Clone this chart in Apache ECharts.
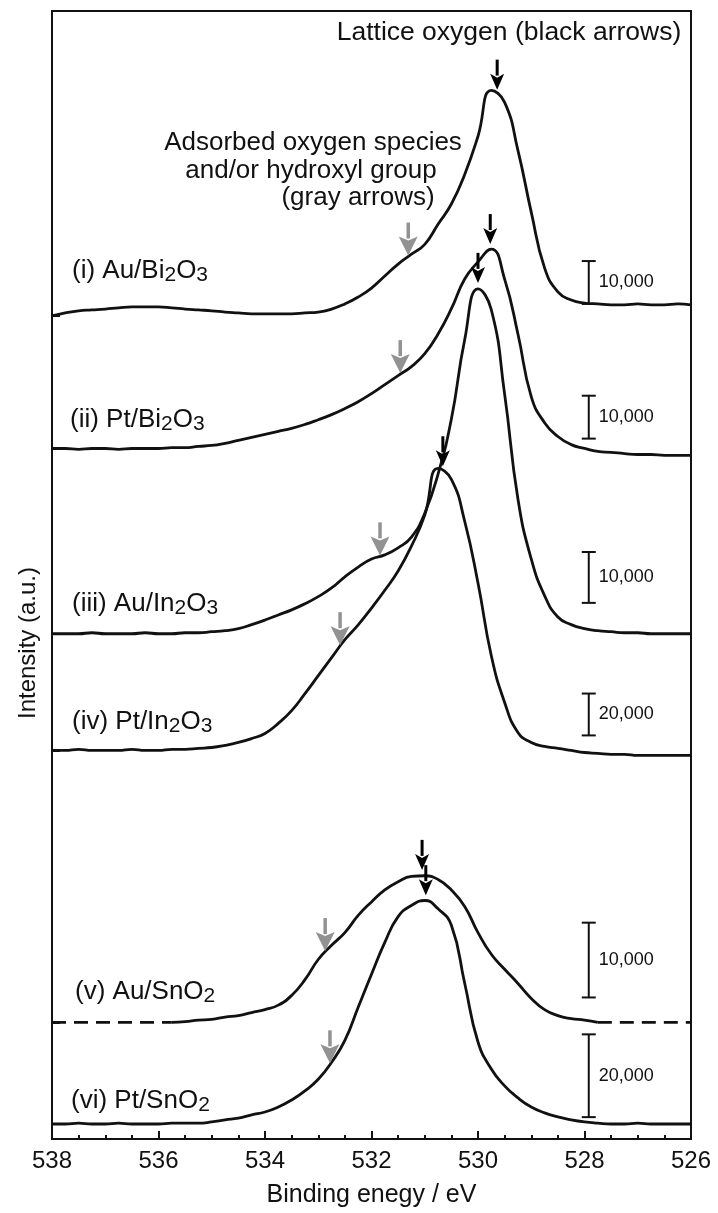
<!DOCTYPE html>
<html>
<head>
<meta charset="utf-8">
<script src="https://cdn.jsdelivr.net/npm/echarts@6/dist/echarts.min.js"></script>
<style>
  html, body { margin: 0; padding: 0; background: #fff; }
  #chart { width: 718px; height: 1213px; }
</style>
</head>
<body>
<div id="chart"></div>
<script>
// O 1s XPS spectra, binding energy grid (eV), high to low
const energy = [538, 537.75, 537.5, 537.25, 537, 536.75, 536.5, 536.25, 536, 535.75, 535.5, 535.25, 535,
  534.75, 534.5, 534.25, 534, 533.75, 533.5, 533.25, 533, 532.75, 532.5, 532.25, 532, 531.75, 531.5,
  531.25, 531, 530.75, 530.5, 530.25, 530, 529.75, 529.5, 529.25, 529, 528.75, 528.5, 528.25, 528,
  527.75, 527.5, 527.25, 527, 526.75, 526.5, 526.25, 526];

// Intensities (counts above each trace's own baseline)
const auBi2O3 = [0, 700, 1200, 1400, 1600, 1900, 2100, 2100, 2100, 1900, 1600, 1400, 1200, 900, 700,
  500, 500, 500, 500, 700, 900, 1600, 2800, 4400, 6500, 9300, 12100, 14400, 16700, 21400, 26100, 33000,
  41900, 52600, 49800, 38600, 24200, 11200, 5600, 3700, 3000, 2800, 2600, 2600, 2800, 2600, 2600, 2800, 2600];
const ptBi2O3 = [0, 0, -200, 0, 0, -200, 0, 0, 0, 200, 200, 500, 700, 1200, 1900, 2600, 3300, 4000, 4700,
  5600, 6700, 7900, 9300, 10900, 12800, 14900, 17000, 19100, 22100, 26700, 32600, 39500, 43500, 46500,
  39500, 26700, 12100, 6000, 2800, 900, 0, -700, -900, -1200, -1400, -1400, -1600, -1600, -1600];
const auIn2O3 = [0, 0, 0, 200, 0, 0, 0, 200, 0, 0, 200, 200, 400, 600, 1000, 1800, 2700, 3700, 4700, 5900,
  7300, 9000, 11200, 13100, 14700, 15500, 16900, 19000, 23700, 31400, 42200, 57800, 67800, 63700, 47100,
  26500, 14700, 7500, 3300, 1800, 1000, 600, 400, 200, 200, 0, 0, 0, 0];
const ptIn2O3 = [0, 0, 500, 0, 0, 0, 500, 0, 0, 500, 500, 1000, 1400, 2400, 3800, 5700, 8100, 12900, 19000,
  27100, 35700, 44300, 52900, 60000, 68000, 76500, 85700, 97600, 112400, 134800, 129500, 109500, 80000,
  45200, 22900, 8600, 3800, 1900, 1000, 0, -1000, -1400, -1900, -1900, -2400, -2400, -2400, -2400, -2400];
const auSnO2 = [null, null, null, null, null, null, null, null, null, 0, 100, 300, 400, 700, 900, 1300, 1700,
  2300, 3600, 5700, 8400, 10300, 12000, 14300, 16100, 17700, 18800, 19500, 19600, 19100, 17700, 15500,
  12000, 9100, 7100, 5200, 3200, 1700, 900, 500, 300, 0, null, null, null, null, null, null, null];
const ptSnO2 = [0, 0, 200, 0, 0, 200, 0, 0, 0, 200, 200, 200, 500, 1000, 1400, 2200, 2900, 4100, 5800, 8000,
  10800, 14900, 20200, 28200, 36200, 43900, 50100, 52800, 54000, 52000, 48000, 34000, 19800, 13300, 9200,
  6300, 4100, 2700, 1700, 1000, 500, 200, 0, 0, 200, 0, 0, 0, 0];

const sampleLabels = [
  '(i) Au/Bi{s|2}O{s|3}', '(ii) Pt/Bi{s|2}O{s|3}', '(iii) Au/In{s|2}O{s|3}',
  '(iv) Pt/In{s|2}O{s|3}', '(v) Au/SnO{s|2}', '(vi) Pt/SnO{s|2}'
];
const scaleBarCounts = [10000, 10000, 10000, 20000, 10000, 20000];
const latticePeakE = [529.64, 529.77, 530.0, 530.66, 531.05, 530.98];
const adsorbedE = [531.31, 531.46, 531.84, 532.59, 532.87, 532.78];
const xTicks = [538, 536, 534, 532, 530, 528, 526];

// Stacking: baseline offset (axis units) and display gain of each trace
const traces = [auBi2O3, ptBi2O3, auIn2O3, ptIn2O3, auSnO2, ptSnO2];
const layout = {
  offsets: [191900, 161000, 117800, 90600, 27200, 3500],
  gains: [1, 1, 1.186, 0.488, 1.744, 0.965],
  barLift: [2800, 2300, 7200, 3500, 5800, 1600],
  barE: 527.92,
  labelPos: [[72, 271], [70, 420], [72, 604], [72, 722], [75, 992], [71, 1101]],
  dashedSpans: [[538, 535.75], [527.75, 526]]
};
const FONT = "'Liberation Sans', Arial, Helvetica, sans-serif";
const INK = '#111';

function shown(k, c) { return layout.offsets[k] + c * layout.gains[k]; }
function valueAt(k, e) {
  const v = traces[k];
  for (let i = 0; i < energy.length - 1; i++) {
    if (e <= energy[i] && e >= energy[i + 1] && v[i] != null && v[i + 1] != null) {
      const t = (energy[i] - e) / (energy[i] - energy[i + 1]);
      return shown(k, v[i] + (v[i + 1] - v[i]) * t);
    }
  }
  return layout.offsets[k];
}

const series = traces.map((vals, k) => ({
  type: 'line',
  data: energy.map((e, i) => vals[i] == null ? null : [e, shown(k, vals[i])]).filter(d => d),
  showSymbol: false,
  smooth: 0.5,
  lineStyle: { color: INK, width: 2.8, join: 'round' },
  silent: true,
  z: 3
}));

// dashed baseline continuation of trace (v)
layout.dashedSpans.forEach(span => {
  series.push({
    type: 'line',
    data: span.map(e => [e, layout.offsets[4]]),
    showSymbol: false,
    lineStyle: { color: INK, width: 2.8, type: [14, 8] },
    silent: true,
    z: 3
  });
});

// arrows marking lattice oxygen (black) and adsorbed species (gray)
const arrowStyles = [
  { color: '#000', gap: 6, length: 30, head: 16, hw: 14, shaft: 3 },
  { color: '#929292', gap: 1, length: 33, head: 19, hw: 19, shaft: 3.5 }
];
const arrowData = [];
latticePeakE.forEach((e, k) => arrowData.push([e, valueAt(k, e), 0]));
adsorbedE.forEach((e, k) => arrowData.push([e, valueAt(k, e), 1]));
series.push({
  type: 'custom',
  data: arrowData,
  silent: true,
  z: 6,
  renderItem(params, api) {
    const p = api.coord([api.value(0), api.value(1)]);
    const st = arrowStyles[api.value(2)];
    const tip = p[1] - st.gap;
    const headTop = tip - st.head;
    return {
      type: 'group',
      children: [
        { type: 'line', shape: { x1: p[0], y1: tip - st.length, x2: p[0], y2: headTop + 2 },
          style: { stroke: st.color, lineWidth: st.shaft } },
        { type: 'polygon', shape: { points: [[p[0] - st.hw / 2, headTop], [p[0], headTop + 4], [p[0] + st.hw / 2, headTop], [p[0], tip]] },
          style: { fill: st.color } }
      ]
    };
  }
});

// intensity scale bars
series.push({
  type: 'custom',
  data: traces.map((_, k) => {
    const lo = layout.offsets[k] + layout.barLift[k];
    return [layout.barE, lo, lo + scaleBarCounts[k] * layout.gains[k], scaleBarCounts[k]];
  }),
  silent: true,
  z: 6,
  renderItem(params, api) {
    const a = api.coord([api.value(0), api.value(1)]);
    const b = api.coord([api.value(0), api.value(2)]);
    const x = a[0];
    const txt = Number(api.value(3)).toLocaleString('en-US');
    return {
      type: 'group',
      children: [
        { type: 'line', shape: { x1: x, y1: a[1], x2: x, y2: b[1] }, style: { stroke: INK, lineWidth: 2 } },
        { type: 'line', shape: { x1: x - 7, y1: a[1], x2: x + 7, y2: a[1] }, style: { stroke: INK, lineWidth: 2 } },
        { type: 'line', shape: { x1: x - 7, y1: b[1], x2: x + 7, y2: b[1] }, style: { stroke: INK, lineWidth: 2 } },
        { type: 'text', x: x + 10, y: (a[1] + b[1]) / 2,
          style: { text: txt, fontSize: 18, fontFamily: FONT, fill: INK, verticalAlign: 'middle', align: 'left' } }
      ]
    };
  }
});

const graphics = [
  { type: 'text', x: 509, y: 33, style: { text: 'Lattice oxygen (black arrows)', fontSize: 26.5, fontFamily: FONT, fill: INK, align: 'center', verticalAlign: 'middle' } },
  { type: 'text', x: 313, y: 143, style: { text: 'Adsorbed oxygen species', fontSize: 26, fontFamily: FONT, fill: INK, align: 'center', verticalAlign: 'middle' } },
  { type: 'text', x: 311, y: 171, style: { text: 'and/or hydroxyl group', fontSize: 26, fontFamily: FONT, fill: INK, align: 'center', verticalAlign: 'middle' } },
  { type: 'text', x: 358, y: 198, style: { text: '(gray arrows)', fontSize: 26, fontFamily: FONT, fill: INK, align: 'center', verticalAlign: 'middle' } },
  { type: 'text', x: 28, y: 643, rotation: Math.PI / 2,
    style: { text: 'Intensity (a.u.)', fontSize: 24, fontFamily: FONT, fill: INK, align: 'center', verticalAlign: 'middle' } }
];
sampleLabels.forEach((t, k) => {
  graphics.push({
    type: 'text', x: layout.labelPos[k][0], y: layout.labelPos[k][1],
    style: {
      text: t, fontSize: 26, lineHeight: 30, fontFamily: FONT, fill: INK, align: 'left', verticalAlign: 'middle',
      rich: { s: { fontSize: 21, lineHeight: 18, verticalAlign: 'bottom', fontFamily: FONT, fill: INK } }
    }
  });
});

const chart = echarts.init(document.getElementById('chart'), null, { renderer: 'canvas' });
chart.setOption({
  backgroundColor: '#fff',
  animation: false,
  grid: { left: 52, right: 27, top: 11, bottom: 70, show: true, borderColor: INK, borderWidth: 2, backgroundColor: 'transparent' },
  xAxis: {
    type: 'value', min: 526, max: 538, interval: 2, inverse: true,
    name: 'Binding enegy / eV', nameLocation: 'middle', nameGap: 44,
    nameTextStyle: { fontSize: 25, fontFamily: FONT, color: INK },
    axisLine: { show: true, lineStyle: { color: INK, width: 2 } },
    axisTick: { show: true, inside: true, length: 8, lineStyle: { color: INK, width: 2 } },
    minorTick: { show: true, splitNumber: 4, length: 4, lineStyle: { color: INK, width: 2 } },
    axisLabel: { fontSize: 24, fontFamily: FONT, color: INK, margin: 10, customValues: xTicks },
    splitLine: { show: false }
  },
  yAxis: {
    type: 'value', min: 0, max: 263000,
    axisLine: { show: true, lineStyle: { color: INK, width: 2 } },
    axisTick: { show: true, inside: true, length: 8, customValues: layout.offsets, lineStyle: { color: INK, width: 2 } },
    axisLabel: { show: false },
    splitLine: { show: false }
  },
  graphic: graphics,
  series: series
});
</script>
</body>
</html>
